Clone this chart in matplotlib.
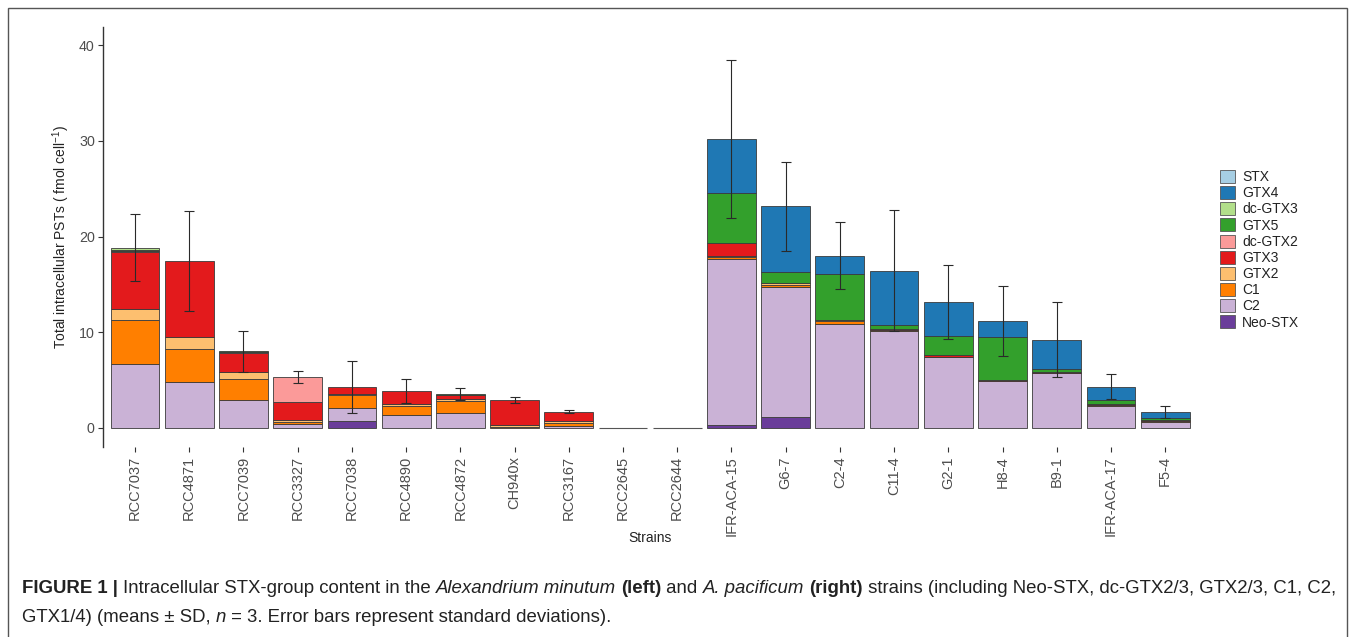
import matplotlib
matplotlib.use('Agg')
import matplotlib.pyplot as plt
import numpy as np
from matplotlib.patches import Patch, Rectangle

plt.rcParams['font.family'] = ['Liberation Sans', 'DejaVu Sans']
plt.rcParams['mathtext.fontset'] = 'custom'
plt.rcParams['mathtext.rm'] = 'Liberation Sans'
plt.rcParams['mathtext.it'] = 'Liberation Sans:italic'

strains = ['RCC7037', 'RCC4871', 'RCC7039', 'RCC3327', 'RCC7038', 'RCC4890', 'RCC4872',
           'CH940x', 'RCC3167', 'RCC2645', 'RCC2644', 'IFR-ACA-15', 'G6-7', 'C2-4', 'C11-4',
           'G2-1', 'H8-4', 'B9-1', 'IFR-ACA-17', 'F5-4']

# toxin content (fmol cell-1), stacked bottom to top
neo_stx = [0, 0, 0, 0, 0.73, 0, 0, 0, 0, 0, 0, 0.31, 1.12, 0, 0, 0, 0, 0, 0, 0]
c2 = [6.66, 4.84, 2.96, 0.38, 1.40, 1.33, 1.53, 0, 0.24, 0, 0, 17.33, 13.66, 10.91, 10.11, 7.40, 4.88, 5.72, 2.30, 0.63]
c1 = [4.64, 3.39, 2.17, 0.25, 1.29, 0.94, 1.26, 0.05, 0.25, 0, 0, 0.20, 0.20, 0.30, 0.08, 0.05, 0, 0.05, 0.05, 0.05]
gtx2 = [1.08, 1.32, 0.73, 0.25, 0.08, 0.27, 0.24, 0.25, 0.27, 0, 0, 0.10, 0.15, 0.05, 0, 0, 0, 0, 0, 0]
gtx3 = [6.00, 7.92, 1.95, 1.87, 0.79, 1.33, 0.39, 2.60, 0.94, 0, 0, 1.38, 0, 0, 0.20, 0.15, 0.10, 0.10, 0.15, 0.15]
dc_gtx2 = [0.15, 0, 0.10, 2.62, 0, 0, 0.06, 0, 0, 0, 0, 0, 0, 0, 0, 0, 0, 0, 0, 0]
gtx5 = [0.10, 0, 0.10, 0, 0, 0, 0.07, 0, 0, 0, 0, 5.23, 1.14, 4.82, 0.35, 2.02, 4.51, 0.27, 0.43, 0.18]
dc_gtx3 = [0.20, 0, 0, 0, 0, 0, 0, 0, 0, 0, 0, 0, 0, 0, 0, 0, 0, 0, 0, 0]
gtx4 = [0, 0, 0, 0, 0, 0, 0, 0, 0, 0, 0, 5.65, 6.91, 1.91, 5.68, 3.56, 1.70, 3.10, 1.39, 0.66]
stx = [0] * 20
sd = [3.48, 5.21, 2.13, 0.63, 2.72, 1.23, 0.60, 0.33, 0.17, 0, 0, 8.25, 4.65, 3.52, 6.33, 3.87, 3.66, 3.90, 1.34, 0.66]

toxins = {'Neo-STX': neo_stx, 'C2': c2, 'C1': c1, 'GTX2': gtx2, 'GTX3': gtx3,
          'dc-GTX2': dc_gtx2, 'GTX5': gtx5, 'dc-GTX3': dc_gtx3, 'GTX4': gtx4, 'STX': stx}
colors = {'STX': '#A6CEE3', 'GTX4': '#1F78B4', 'dc-GTX3': '#B2DF8A', 'GTX5': '#33A02C',
          'dc-GTX2': '#FB9A99', 'GTX3': '#E31A1C', 'GTX2': '#FDBF6F', 'C1': '#FF7F00',
          'C2': '#CAB2D6', 'Neo-STX': '#6A3D9A'}

W, H = 1355, 637
fig = plt.figure(figsize=(W / 100, H / 100), dpi=100)
ax = fig.add_axes([102.5 / W, 1 - 447 / H, (1197.7 - 102.5) / W, 420 / H])

x = np.arange(len(strains))
bottom = np.zeros(len(strains))
for name, vals in toxins.items():
    vals = np.array(vals, dtype=float)
    m = vals > 0
    if m.any():
        ax.bar(x[m], vals[m], 0.9, bottom=bottom[m], color=colors[name],
               edgecolor='#3a3a3a', linewidth=0.6)
    bottom += vals
zero = bottom == 0
ax.bar(x[zero], bottom[zero], 0.9, color='none', edgecolor='#555555', linewidth=0.8)
nz = ~zero
ax.errorbar(x[nz], bottom[nz], yerr=np.array(sd)[nz], fmt='none', ecolor='#2a2a2a',
            elinewidth=0.8, capsize=3.9, capthick=0.8)

ax.set_xlim(-0.6, 19.6)
ax.set_ylim(-1.99, 41.9)
for s in ['top', 'right', 'bottom']:
    ax.spines[s].set_visible(False)
ax.spines['left'].set_color('#333333')
ax.spines['left'].set_linewidth(1.0)
ax.set_yticks([0, 10, 20, 30, 40])
ax.tick_params(axis='y', length=3.5, width=0.8, color='#333333', labelcolor='#4D4D4D',
               labelsize=10.3, pad=2)
ax.set_xticks(x)
ax.set_xticklabels(strains, rotation=90, va='top', ha='center')
ax.tick_params(axis='x', length=3.6, width=0.8, color='#333333', labelcolor='#4D4D4D',
               labelsize=10.5, pad=3)

ax.set_ylabel('Total intracellular PSTs ( fmol cell$^{-1}$)', fontsize=10, color='#222222')
ax.yaxis.set_label_coords(-0.028, 0.5)
ax.set_xlabel('Strains', fontsize=10, color='#222222')
ax.xaxis.set_label_coords(0.5, -0.2)

order = ['STX', 'GTX4', 'dc-GTX3', 'GTX5', 'dc-GTX2', 'GTX3', 'GTX2', 'C1', 'C2', 'Neo-STX']
handles = [Patch(facecolor=colors[n], edgecolor='#555555', linewidth=0.6, label=n) for n in order]
leg = fig.legend(handles=handles, loc='upper left', bbox_to_anchor=(1213 / W, 1 - 163 / H),
                 bbox_transform=fig.transFigure, frameon=False, borderpad=0, fontsize=10,
                 handlelength=1.06, handleheight=1.06, labelspacing=0.14, handletextpad=0.55)
for t in leg.get_texts():
    t.set_color('#222222')

# figure frame
fig.patches.append(Rectangle((8 / W, -0.1), (1347 - 8) / W, 1.1 - 8 / H, transform=fig.transFigure,
                             fill=False, edgecolor='#555555', linewidth=1.0, clip_on=False))

# caption with mixed styles
renderer = fig.canvas.get_renderer()


def draw_runs(runs, x0, y0, size):
    xp = x0
    for txt, weight, style in runs:
        t = fig.text(xp / W, 1 - y0 / H, txt, fontsize=size, fontweight=weight, fontstyle=style,
                     va='baseline', ha='left', color='#222222')
        bb = t.get_window_extent(renderer=renderer)
        xp += bb.width


cap_size = 13.4
line1 = [('FIGURE 1 | ', 'bold', 'normal'),
         ('Intracellular STX-group content in the ', 'normal', 'normal'),
         ('Alexandrium minutum', 'normal', 'italic'),
         (' ', 'normal', 'normal'),
         ('(left)', 'bold', 'normal'),
         (' and ', 'normal', 'normal'),
         ('A. pacificum', 'normal', 'italic'),
         (' ', 'normal', 'normal'),
         ('(right)', 'bold', 'normal'),
         (' strains (including Neo-STX, dc-GTX2/3, GTX2/3, C1, C2,', 'normal', 'normal')]
line2 = [('GTX1/4) (means \u00b1 SD, ', 'normal', 'normal'),
         ('n', 'normal', 'italic'),
         (' = 3. Error bars represent standard deviations).', 'normal', 'normal')]
draw_runs(line1, 22, 593, cap_size)
draw_runs(line2, 22, 622, cap_size)

fig.savefig('out.png', dpi=100)
